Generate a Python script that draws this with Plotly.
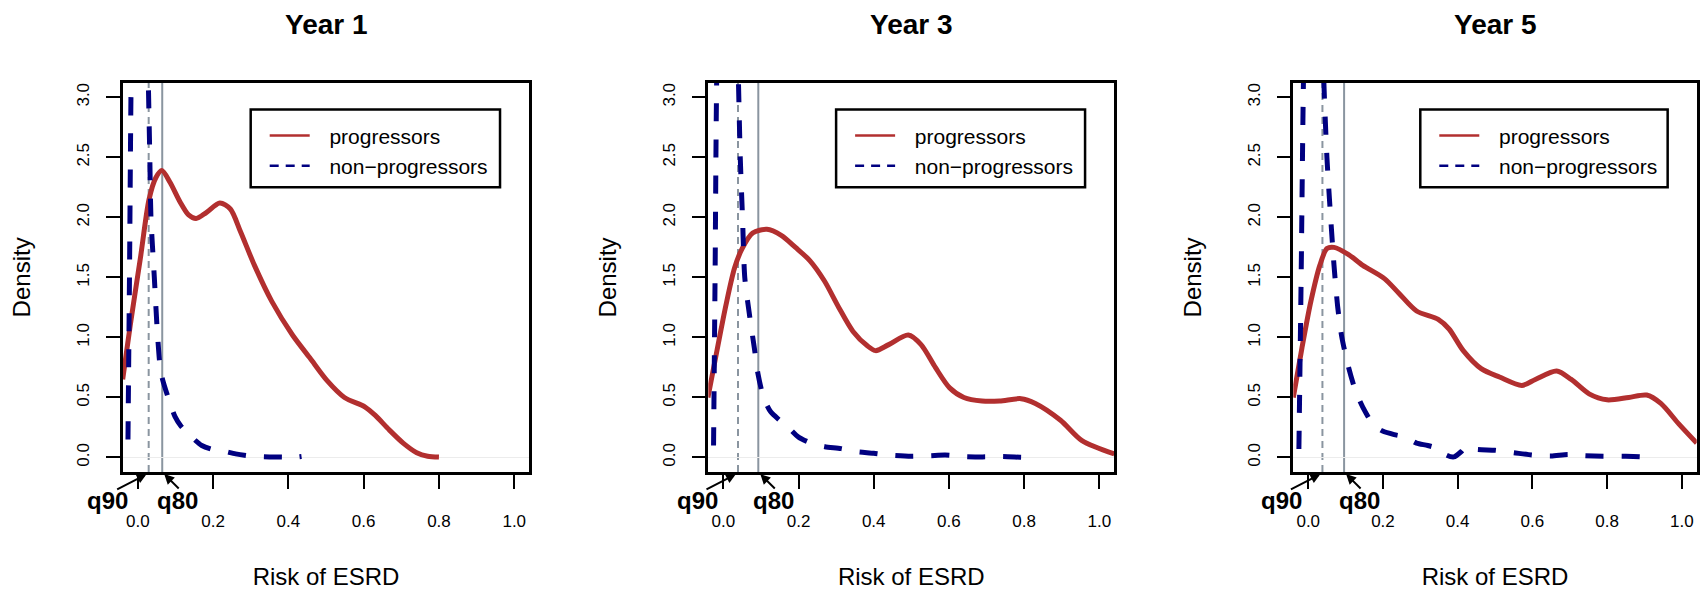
import plotly.graph_objects as go

# ---------------- data ----------------
years = ["Year 1", "Year 3", "Year 5"]
series_names = ["progressors", "non\u2212progressors"]

x_tick_vals = [0.0, 0.2, 0.4, 0.6, 0.8, 1.0]
x_tick_text = ["0.0", "0.2", "0.4", "0.6", "0.8", "1.0"]
y_tick_vals = [0.0, 0.5, 1.0, 1.5, 2.0, 2.5, 3.0]
y_tick_text = ["0.0", "0.5", "1.0", "1.5", "2.0", "2.5", "3.0"]

# Year 1
y1_prog_risk = [-0.04, -0.02, 0.007, 0.03, 0.048, 0.064, 0.086, 0.112, 0.135, 0.155, 0.182, 0.218,
                0.246, 0.273, 0.31, 0.356, 0.411, 0.457, 0.503, 0.549, 0.604, 0.631, 0.668,
                0.705, 0.741, 0.77, 0.8]
y1_prog_dens = [0.65, 1.10, 1.66, 2.15, 2.33, 2.39, 2.29, 2.13, 2.02, 1.99, 2.04, 2.12,
                2.07, 1.88, 1.60, 1.30, 1.02, 0.83, 0.64, 0.50, 0.42, 0.35, 0.23,
                0.12, 0.04, 0.01, 0.003]
y1_nonp_risk = [-0.026, -0.022, -0.017, 0.005, 0.027, 0.032, 0.035, 0.044, 0.053, 0.062, 0.087,
                0.099, 0.115, 0.143, 0.17, 0.2, 0.225, 0.26, 0.3, 0.35, 0.39, 0.41, 0.435]
y1_nonp_dens = [0.15, 1.5, 3.3, 7.0, 3.3, 2.5, 2.0, 1.5, 1.0, 0.7, 0.44,
                0.34, 0.26, 0.17, 0.10, 0.065, 0.055, 0.03, 0.012, 0.005, 0.003, 0.0, 0.008]

# Year 3
y3_prog_risk = [-0.041, -0.017, 0.007, 0.03, 0.05, 0.078, 0.116, 0.154, 0.192, 0.23, 0.269,
                0.307, 0.345, 0.383, 0.405, 0.44, 0.492, 0.526, 0.564, 0.602, 0.64, 0.688,
                0.735, 0.792, 0.83, 0.897, 0.954, 1.04]
y3_prog_dens = [0.50, 0.89, 1.27, 1.58, 1.74, 1.87, 1.90, 1.85, 1.75, 1.64, 1.47,
                1.25, 1.05, 0.93, 0.89, 0.94, 1.02, 0.94, 0.75, 0.58, 0.50, 0.47,
                0.47, 0.49, 0.45, 0.31, 0.14, 0.03]
y3_nonp_risk = [-0.026, -0.022, -0.017, 0.012, 0.039, 0.045, 0.051, 0.057, 0.069, 0.083, 0.092,
                0.107, 0.126, 0.15, 0.173, 0.2, 0.237, 0.27, 0.313, 0.35, 0.4, 0.44, 0.5,
                0.55, 0.59, 0.64, 0.69, 0.74, 0.79, 0.815]
y3_nonp_dens = [0.1, 1.5, 3.3, 7.0, 3.3, 2.5, 2.0, 1.5, 1.2, 0.9, 0.7,
                0.5, 0.38, 0.31, 0.25, 0.17, 0.115, 0.09, 0.074, 0.05, 0.035, 0.02, 0.01,
                0.015, 0.02, 0.008, 0.005, 0.008, 0.002, 0.0]

# Year 5
y5_prog_risk = [-0.04, -0.017, 0.007, 0.031, 0.05, 0.069, 0.108, 0.146, 0.204, 0.242, 0.29,
                0.348, 0.377, 0.415, 0.463, 0.512, 0.572, 0.608, 0.665, 0.704, 0.752, 0.8,
                0.858, 0.906, 0.944, 0.992, 1.04]
y5_prog_dens = [0.50, 0.91, 1.30, 1.60, 1.74, 1.75, 1.69, 1.60, 1.49, 1.37, 1.22,
                1.15, 1.07, 0.89, 0.74, 0.67, 0.60, 0.65, 0.72, 0.65, 0.53, 0.48,
                0.50, 0.52, 0.45, 0.28, 0.12]
y5_nonp_risk = [-0.025, -0.019, -0.012, 0.015, 0.04, 0.05, 0.06, 0.069, 0.079, 0.09, 0.108,
                0.127, 0.146, 0.175, 0.199, 0.23, 0.26, 0.29, 0.32, 0.35, 0.37, 0.39, 0.41,
                0.425, 0.445, 0.5, 0.55, 0.6, 0.65, 0.695, 0.74, 0.79, 0.85, 0.89, 0.91]
y5_nonp_dens = [0.07, 1.5, 3.3, 7.0, 3.3, 2.5, 2.0, 1.6, 1.25, 1.0, 0.75,
                0.55, 0.42, 0.27, 0.22, 0.19, 0.17, 0.12, 0.10, 0.07, 0.02, 0.005, 0.05,
                0.095, 0.07, 0.06, 0.04, 0.02, 0.012, 0.025, 0.015, 0.01, 0.01, 0.006, 0.0]

prog_risk = [y1_prog_risk, y3_prog_risk, y5_prog_risk]
prog_dens = [y1_prog_dens, y3_prog_dens, y5_prog_dens]
nonp_risk = [y1_nonp_risk, y3_nonp_risk, y5_nonp_risk]
nonp_dens = [y1_nonp_dens, y3_nonp_dens, y5_nonp_dens]

q90 = [0.029, 0.039, 0.038]
q80 = [0.065, 0.093, 0.096]

# ---------------- style / layout ----------------
W, H = 1706, 590
FONT = "Liberation Sans, Arial, Helvetica, sans-serif"
RED = "#B22F2F"
BLUE = "#000080"
GREY = "#8A95A0"
LEGEND_PAD = "\u2002\u2009"   # text offset after the legend line sample

panel_px = [(122.7, 529.3), (708.3, 1114.3), (1293.3, 1696.7)]
plot_top, plot_bot = 83.3, 474.3
ydom = [1 - plot_bot / H, 1 - plot_top / H]

fig = go.Figure()
layout = dict(
    width=W, height=H,
    margin=dict(l=0, r=0, t=0, b=0),
    paper_bgcolor="white", plot_bgcolor="white",
    font=dict(family=FONT, color="black"),
    showlegend=True,
)
shapes = []
annotations = []

for i in range(3):
    sfx = "" if i == 0 else str(i + 1)
    xa, ya = "x" + sfx, "y" + sfx
    leg = "legend" + sfx
    x0p, x1p = panel_px[i]

    layout["xaxis" + sfx] = dict(
        domain=[x0p / W, x1p / W], anchor=ya, range=[-0.04, 1.04],
        showline=True, linecolor="black", linewidth=2.5, mirror=True,
        ticks="outside", ticklen=14, tickwidth=2, tickcolor="black",
        tickvals=x_tick_vals, ticktext=x_tick_text,
        tickfont=dict(size=17, family=FONT, color="black"),
        ticklabelstandoff=18,
        showgrid=False, zeroline=False, fixedrange=True,
        title=dict(text="Risk of ESRD", font=dict(size=24, family=FONT, color="black"),
                   standoff=42),
    )
    layout["yaxis" + sfx] = dict(
        domain=ydom, anchor=xa, range=[-0.12, 3.12],
        showline=True, linecolor="black", linewidth=2.5, mirror=True,
        ticks="outside", ticklen=14, tickwidth=2, tickcolor="black",
        tickvals=y_tick_vals, ticktext=y_tick_text, tickangle=-90,
        tickfont=dict(size=17, family=FONT, color="black"),
        ticklabelstandoff=10,
        showgrid=False, zeroline=True, zerolinecolor="#ECECEC", zerolinewidth=1,
        fixedrange=True,
        title=dict(text="Density", font=dict(size=24, family=FONT, color="black"),
                   standoff=37),
    )

    # density curves
    fig.add_trace(go.Scatter(
        x=prog_risk[i], y=prog_dens[i], mode="lines", xaxis=xa, yaxis=ya,
        line=dict(color=RED, width=5, shape="spline", smoothing=0.8),
        showlegend=False, hoverinfo="skip"))
    fig.add_trace(go.Scatter(
        x=nonp_risk[i], y=nonp_dens[i], mode="lines", xaxis=xa, yaxis=ya,
        line=dict(color=BLUE, width=5, dash="18px,18px", shape="spline", smoothing=0.7),
        showlegend=False, hoverinfo="skip"))
    # legend entries (thin lines as in the original legend)
    fig.add_trace(go.Scatter(
        x=[None], y=[None], mode="lines", xaxis=xa, yaxis=ya, name=LEGEND_PAD + series_names[0],
        line=dict(color=RED, width=2.5), legend=leg, showlegend=True))
    fig.add_trace(go.Scatter(
        x=[None], y=[None], mode="lines", xaxis=xa, yaxis=ya, name=LEGEND_PAD + series_names[1],
        line=dict(color=BLUE, width=2.5, dash="9px,7px"), legend=leg, showlegend=True))

    pw = x1p - x0p
    layout[leg] = dict(
        x=(x0p + 0.3148 * pw + 14) / W, xanchor="left",
        y=1 - 116 / H, yanchor="top",
        bgcolor="rgba(0,0,0,0)", borderwidth=0,
        font=dict(size=21, family=FONT, color="black"),
        itemwidth=40, tracegroupgap=0, itemclick=False, itemdoubleclick=False,
    )
    shapes.append(dict(type="rect", xref=xa + " domain", yref=ya + " domain",
                       x0=0.3148, x1=0.928, y0=0.7315, y1=0.9317,
                       line=dict(color="black", width=2.5), fillcolor="rgba(0,0,0,0)"))

    # quantile lines
    shapes.append(dict(type="line", xref=xa, yref=ya + " domain", x0=q90[i], x1=q90[i],
                       y0=0, y1=1, layer="below",
                       line=dict(color=GREY, width=2, dash="7px,5px")))
    shapes.append(dict(type="line", xref=xa, yref=ya + " domain", x0=q80[i], x1=q80[i],
                       y0=0, y1=1, layer="below",
                       line=dict(color=GREY, width=2)))

    # title
    annotations.append(dict(text="<b>" + years[i] + "</b>", xref=xa + " domain", x=0.5,
                            yref="paper", y=1 - 25 / H, showarrow=False,
                            font=dict(size=28, family=FONT, color="black"),
                            xanchor="center", yanchor="middle"))
    # quantile labels + arrows
    for q, lab, tx, ax in ((q90[i], "q90", -41, -31), (q80[i], "q80", 15, 16)):
        annotations.append(dict(text="<b>" + lab + "</b>", xref=xa, x=q, xshift=tx,
                                yref="paper", y=1 - 503 / H, showarrow=False,
                                font=dict(size=24, family=FONT, color="black"),
                                xanchor="center", yanchor="middle"))
        annotations.append(dict(text="", xref=xa, x=q, xshift=(-2 if ax < 0 else 2),
                                yref="paper", y=1 - 476.5 / H,
                                showarrow=True, ax=ax, ay=16, arrowhead=2, arrowsize=1,
                                arrowwidth=2, arrowcolor="black", standoff=0))

layout["shapes"] = shapes
layout["annotations"] = annotations
fig.update_layout(**layout)

fig.write_html("out.html", config={"displayModeBar": False},
               post_script="document.body.style.margin='0';document.body.style.overflow='hidden';")
